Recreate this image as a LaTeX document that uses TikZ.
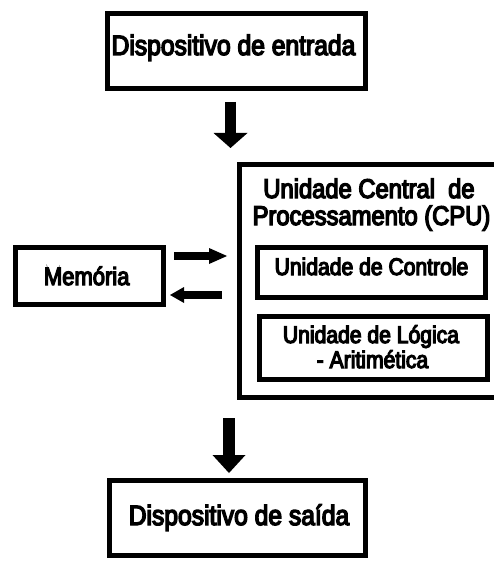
\documentclass[tikz,border=0pt]{standalone}
\usepackage{fontspec}
\setmainfont{Liberation Sans}[FakeStretch=0.88,FakeBold=5]
\usetikzlibrary{arrows.meta}
\tikzset{
  box/.style={draw, line width=5pt, inner sep=0pt, minimum width=#1},
  lbl/.style={anchor=base, inner sep=0pt, font=\fontsize{#1}{#1}\selectfont},
  fat/.style n args={3}{line width=#1pt, -{Triangle[width=#2pt,length=#3pt,line width=0pt]}}
}
\begin{document}
\begin{tikzpicture}[x=1pt,y=-1pt]
\useasboundingbox (0,0) rectangle (493,561);
% boxes
\node[box=258pt, minimum height=75pt] (entrada) at (236.5,51) {};
\node[box=280.5pt, minimum height=233pt] (cpu) at (379.75,281) {};
\node[box=228pt, minimum height=50pt] (controle) at (371.5,272.5) {};
\node[box=228pt, minimum height=63pt] (ula) at (373.5,348) {};
\node[box=148pt, minimum height=57pt] (memoria) at (89.5,276) {};
\node[box=256pt, minimum height=75pt] (saida) at (237.5,518) {};
% labels
\node[lbl=28] (tEntrada) at (233.5,55) {Dispositivo de entrada};
\node[lbl=27] (tCpu1) at (369,198) {Unidade Central\ \ de};
\node[lbl=27] (tCpu2) at (371.5,225) {Processamento (CPU)};
\node[lbl=24] (tControle) at (371.5,275) {Unidade de Controle};
\node[lbl=24] (tUla1) at (371,343) {Unidade de Lógica};
\node[lbl=24] (tUla2) at (372.5,368) {- Aritimética};
\node[lbl=25] (tMemoria) at (86.7,285) {Memória};
\node[lbl=28] (tSaida) at (239,525) {Dispositivo de saída};
% arrow end points
\coordinate (a1s) at (230.5,102);
\coordinate (a1e) at (230.5,148);
\coordinate (a2s) at (174,256);
\coordinate (a2e) at (227,256);
\coordinate (a3s) at (222,295);
\coordinate (a3e) at (170,295);
\coordinate (a4s) at (229,418);
\coordinate (a4e) at (229,473);
\draw[fat={11}{34}{15}] (a1s) -- (a1e);
\draw[fat={8}{16}{18}] (a2s) -- (a2e);
\draw[fat={8}{16}{14}] (a3s) -- (a3e);
\draw[fat={12}{33}{18}] (a4s) -- (a4e);
\end{tikzpicture}
\end{document}
